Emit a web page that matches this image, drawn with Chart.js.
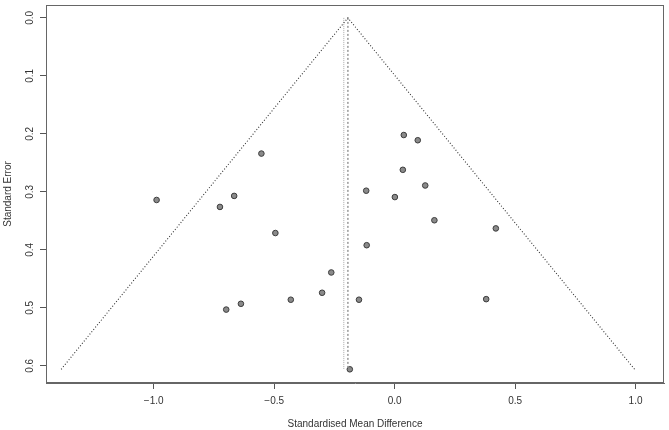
<!DOCTYPE html>
<html>
<head>
<meta charset="utf-8">
<script src="https://cdn.jsdelivr.net/npm/chart.js@4.4.1/dist/chart.umd.min.js"></script>
<style>
  html, body { margin: 0; padding: 0; background: #fff; }
  #wrap { width: 669px; height: 430px; }
</style>
</head>
<body>
<div id="wrap"><canvas id="chart" width="669" height="430"></canvas></div>
<script>
// study effects (standardised mean difference) and their standard errors
const smd = [-0.988, -0.553, -0.666, -0.725, -0.495, -0.263, -0.301, -0.431, -0.638, -0.699, -0.148, -0.186,
             0.038, 0.096, 0.034, -0.118, 0.001, 0.127, 0.165, 0.420, -0.116, 0.380];
const se = [0.314, 0.234, 0.307, 0.326, 0.371, 0.439, 0.474, 0.486, 0.493, 0.503, 0.486, 0.606,
            0.202, 0.211, 0.262, 0.298, 0.309, 0.289, 0.349, 0.363, 0.392, 0.485];

// funnel outline (pseudo 95% limits) and reference lines
const funnelX = [-1.384, -0.194, 0.996];
const funnelSE = [0.606, 0, 0.606];
const refX = [-0.194, -0.194];
const refSE = [0, 0.606];
const ref2X = [-0.211, -0.211];
const ref2SE = [0, 0.606];

const xTicks = [-1.0, -0.5, 0.0, 0.5, 1.0];
const yTicks = [0.0, 0.1, 0.2, 0.3, 0.4, 0.5, 0.6];

const toXY = (xs, ys) => xs.map((x, i) => ({ x: x, y: ys[i] }));
const fmt = v => (v < 0 ? "\u2212" + Math.abs(v).toFixed(1) : v.toFixed(1));

const boxPlugin = {
  id: "box",
  afterDraw(chart) {
    const a = chart.chartArea;
    const ctx = chart.ctx;
    ctx.save();
    ctx.strokeStyle = "#666";
    ctx.lineWidth = 1;
    ctx.strokeRect(a.left + 0.5, a.top + 0.5, a.right - a.left - 1, a.bottom - a.top - 1);
    ctx.restore();
  }
};

Chart.defaults.font.family = "'Liberation Sans', Arial, sans-serif";
Chart.defaults.font.size = 10;
Chart.defaults.color = "#333";

new Chart(document.getElementById("chart"), {
  type: "scatter",
  data: {
    datasets: [
      {
        type: "line",
        data: toXY(funnelX, funnelSE),
        borderColor: "#333",
        borderWidth: 1.1,
        borderDash: [1, 2],
        pointRadius: 0,
        fill: false
      },
      {
        type: "line",
        data: toXY(refX, refSE),
        borderColor: "#999",
        borderWidth: 1.5,
        borderDash: [2, 2],
        pointRadius: 0,
        fill: false
      },
      {
        type: "line",
        data: toXY(ref2X, ref2SE),
        borderColor: "#aaa",
        borderWidth: 1,
        borderDash: [1, 1],
        pointRadius: 0,
        fill: false
      },
      {
        data: toXY(smd, se),
        backgroundColor: "#8a8a8a",
        borderColor: "#3c3c3c",
        borderWidth: 1,
        pointRadius: 2.8
      }
    ]
  },
  options: {
    responsive: false,
    animation: false,
    devicePixelRatio: 1,
    layout: { padding: { top: 2, right: 1, left: 0, bottom: 0 } },
    plugins: { legend: { display: false }, tooltip: { enabled: false } },
    scales: {
      x: {
        type: "linear",
        min: -1.447,
        max: 1.118,
        afterBuildTicks: s => { s.ticks = xTicks.map(v => ({ value: v })); },
        afterFit: s => { s.height = 47; s.paddingLeft = 0; s.paddingRight = 0; },
        grid: { display: true, drawOnChartArea: false, drawTicks: true, tickLength: 6, color: "#555" },
        border: { display: true, color: "#666" },
        ticks: { padding: 6, maxRotation: 0, callback: v => fmt(v), color: "#333" },
        title: { display: true, text: "Standardised Mean Difference", color: "#333", padding: { top: 0, bottom: 0 } }
      },
      y: {
        type: "linear",
        reverse: true,
        min: -0.0222,
        max: 0.6296,
        afterBuildTicks: s => { s.ticks = yTicks.map(v => ({ value: v })); },
        afterFit: s => { s.width = 46; s.paddingTop = 0; s.paddingBottom = 0; },
        grid: { display: true, drawOnChartArea: false, drawTicks: true, tickLength: 6, color: "#555" },
        border: { display: true, color: "#666" },
        ticks: { padding: 3, minRotation: 90, maxRotation: 90, crossAlign: "center", callback: v => v.toFixed(1), color: "#333" },
        title: { display: true, text: "Standard Error", color: "#333", padding: { top: 2, bottom: 0 } }
      }
    }
  },
  plugins: [boxPlugin]
});
</script>
</body>
</html>
